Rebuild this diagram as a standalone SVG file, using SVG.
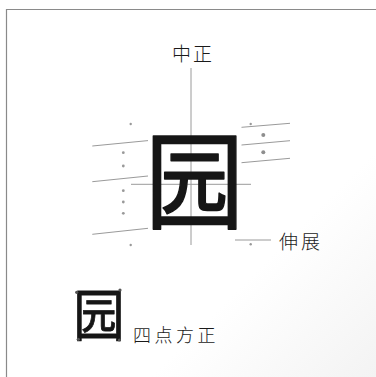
<svg xmlns="http://www.w3.org/2000/svg" width="376" height="377" viewBox="0 0 376 377">
<defs>
<style>
.frame{fill:none;stroke:#8a8a8a;stroke-width:1.2}
.guide{stroke:#9a9a9a;stroke-width:1;fill:none}
.dot{fill:#999}
.dotb{fill:#8e8e8e}
.cdot{fill:#555}
.lbl{font-family:"Noto Sans CJK SC","Noto Sans CJK JP",sans-serif;font-weight:300;fill:#1a1a1a}
.big{font-family:"Noto Sans CJK SC","Noto Sans CJK JP",sans-serif;font-weight:400;fill:#161616;stroke:#161616;stroke-width:1.5;stroke-linejoin:round}
.small{font-family:"Noto Sans CJK SC","Noto Sans CJK JP",sans-serif;font-weight:400;fill:#161616;stroke:#161616;stroke-width:0.8;stroke-linejoin:round}
</style>
<linearGradient id="bg" x1="0" y1="0" x2="1" y2="1">
<stop offset="0.7" stop-color="#ffffff"/>
<stop offset="1" stop-color="#f3f3f3"/>
</linearGradient>
</defs>
<rect width="376" height="377" fill="url(#bg)"/>
<path class="frame" d="M6.5,377 V9.5 H376"/>

<g id="connectors">
<line class="guide" x1="191" y1="68" x2="191" y2="245"/>
<line class="guide" x1="131" y1="184.3" x2="251" y2="184.3"/>
<line class="guide" x1="92.3" y1="146" x2="148" y2="140.6"/>
<line class="guide" x1="92.3" y1="181.7" x2="148" y2="176"/>
<line class="guide" x1="92.3" y1="234.3" x2="148" y2="228.3"/>
<line class="guide" x1="241.5" y1="127.3" x2="290" y2="123.3"/>
<line class="guide" x1="241.5" y1="145" x2="290" y2="140.7"/>
<line class="guide" x1="241.5" y1="162.7" x2="290" y2="158.3"/>
<line class="guide" x1="235" y1="240" x2="271" y2="240"/>
</g>

<g id="dots">
<circle class="dot" cx="130.7" cy="124" r="1.2"/>
<circle class="dot" cx="123.3" cy="152.7" r="1.4"/>
<circle class="dot" cx="123.3" cy="166" r="1.4"/>
<circle class="dot" cx="123.3" cy="190.7" r="1.4"/>
<circle class="dot" cx="123.3" cy="202" r="1.4"/>
<circle class="dot" cx="123.3" cy="213.3" r="1.4"/>
<circle class="dot" cx="130.7" cy="245" r="1.2"/>
<circle class="dot" cx="250.7" cy="124" r="1.2"/>
<circle class="dotb" cx="263.3" cy="135" r="2"/>
<circle class="dotb" cx="263.3" cy="152.3" r="2"/>
<circle class="dot" cx="250.7" cy="244.3" r="1.2"/>
</g>

<g id="big-char">
<text class="big" font-size="106" text-anchor="middle" transform="translate(194.5,220) scale(0.93,1)">园</text>
</g>

<g id="label-zhongzheng">
<text class="lbl" x="172" y="61" font-size="19" letter-spacing="2">中正</text>
</g>

<g id="label-shenzhan">
<text class="lbl" x="279" y="249" font-size="19" letter-spacing="3">伸展</text>
</g>

<g id="small-char">
<text class="small" font-size="57" text-anchor="middle" transform="translate(99,335.5) scale(0.9,1)">园</text>
<circle class="cdot" cx="76.7" cy="292.3" r="1.6"/>
<circle class="cdot" cx="120" cy="290" r="1.6"/>
<circle class="cdot" cx="78.3" cy="339.3" r="1.6"/>
<circle class="cdot" cx="119.3" cy="340" r="1.6"/>
</g>

<g id="label-sidian">
<text class="lbl" x="133" y="342" font-size="18" letter-spacing="3.5">四点方正</text>
</g>
</svg>
